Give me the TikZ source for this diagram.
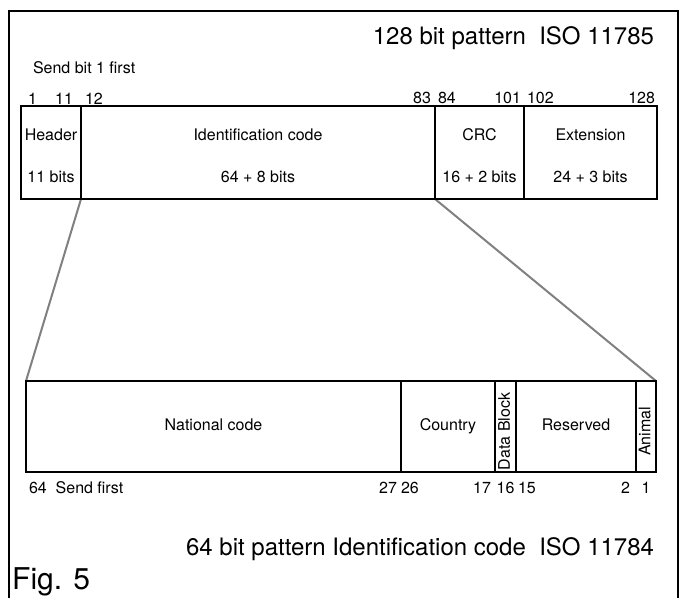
\documentclass[tikz,border=0pt]{standalone}
\usepackage{fontspec}
\setmainfont{TeX Gyre Heros}
\usetikzlibrary{positioning,calc,backgrounds}

\begin{document}
\begin{tikzpicture}[x=1pt, y=-1pt,
  field/.style={rectangle, draw=black, line width=2pt, inner sep=0pt, outer sep=0pt, minimum height=93pt},
  lowfield/.style={field, minimum height=91pt},
  fieldlabel/.style={inner sep=0pt, outer sep=0pt, font=\fontsize{16}{19}\selectfont, text height=11.5pt, text depth=3pt},
  bitno/.style={inner sep=0pt, outer sep=0pt, font=\fontsize{16}{19}\selectfont},
  bigtext/.style={inner sep=0pt, outer sep=0pt, font=\fontsize{24}{28}\selectfont},
  zoomline/.style={draw=gray, line width=2pt}]
  \useasboundingbox (0,0) rectangle (682,597);
  \draw[line width=2.5pt] (9,605) -- (9,11) -- (678,11) -- (678,605);

  \node[field, minimum width=60pt, anchor=north west] (hdr) at (21,106) {};
  \node[field, minimum width=354pt, right=0pt of hdr] (idc) {};
  \node[field, minimum width=89pt, right=0pt of idc] (crc) {};
  \node[field, minimum width=133pt, right=0pt of crc] (ext) {};

  \node[fieldlabel, below=23pt of hdr.north] (hdrname) {Header};
  \node[fieldlabel, above=14pt of hdr.south] (hdrbits) {11 bits};
  \node[fieldlabel, below=23pt of idc.north] (idcname) {Identification code};
  \node[fieldlabel, above=14pt of idc.south] (idcbits) {64 + 8 bits};
  \node[fieldlabel, below=23pt of crc.north] (crcname) {CRC};
  \node[fieldlabel, above=14pt of crc.south] (crcbits) {16 + 2 bits};
  \node[fieldlabel, below=23pt of ext.north] (extname) {Extension};
  \node[fieldlabel, above=14pt of ext.south] (extbits) {24 + 3 bits};

  \node[bitno, above right=2pt and 7pt of hdr.north west] (b1) {1};
  \node[bitno, above left=2pt and 8pt of hdr.north east] (b11) {11};
  \node[bitno, above right=2pt and 4pt of idc.north west] (b12) {12};
  \node[bitno, above left=2pt and 4pt of idc.north east] (b83) {83};
  \node[bitno, above right=2pt and 3pt of crc.north west] (b84) {84};
  \node[bitno, above left=2pt and 3pt of crc.north east] (b101) {101};
  \node[bitno, above right=2pt and 3pt of ext.north west] (b102) {102};
  \node[bitno, above left=2pt and 2pt of ext.north east] (b128) {128};

  \node[bitno, above right=32pt and 12pt of hdr.north west] (sendfirst) {Send bit 1 first};
  \node[bigtext, above left=56pt and 3pt of ext.north east] (toptitle) {128 bit pattern~~ISO 11785};

  \node[lowfield, minimum width=375pt, below right=182pt and 5pt of hdr.south west] (nat) {};
  \node[lowfield, minimum width=94pt, right=0pt of nat] (cty) {};
  \node[lowfield, minimum width=21pt, right=0pt of cty] (dblk) {};
  \node[lowfield, minimum width=120pt, right=0pt of dblk] (rsv) {};
  \node[lowfield, minimum width=20pt, right=0pt of rsv] (ani) {};

  \node[fieldlabel] (natname) at (nat) {National code};
  \node[fieldlabel] (ctyname) at (cty) {Country};
  \node[fieldlabel, rotate=90] (dblkname) at ($(dblk.center)+(0,5)$) {Data Block};
  \node[fieldlabel] (rsvname) at (rsv) {Reserved};
  \node[fieldlabel, rotate=90] (aniname) at ($(ani.center)+(0,5)$) {Animal};

  \node[bitno, below right=10pt and 3pt of nat.south west] (s64) {64~~Send first};
  \node[bitno, below left=10pt and 4pt of nat.south east] (s27) {27};
  \node[bitno, below right=10pt and 0pt of cty.south west] (s26) {26};
  \node[bitno, below left=10pt and 4pt of cty.south east] (s17) {17};
  \node[bitno, below=10pt of dblk.south] (s16) {16};
  \node[bitno, below right=10pt and 2pt of rsv.south west] (s15) {15};
  \node[bitno, below left=10pt and 6pt of rsv.south east] (s2) {2};
  \node[bitno, below=10pt of ani.south] (s1) {1};

  \node[bigtext, below left=66pt and 2pt of ani.south east] (lowtitle) {64 bit pattern Identification code~~ISO 11784};
  \node[anchor=base west, inner sep=0pt, font=\fontsize{30}{35}\selectfont] (fig) at (12,589) {Fig. 5};

  \begin{scope}[on background layer]
    \draw[zoomline] (hdr.south east) -- (nat.north west);
    \draw[zoomline] (idc.south east) -- (ani.north east);
  \end{scope}
\end{tikzpicture}
\end{document}
